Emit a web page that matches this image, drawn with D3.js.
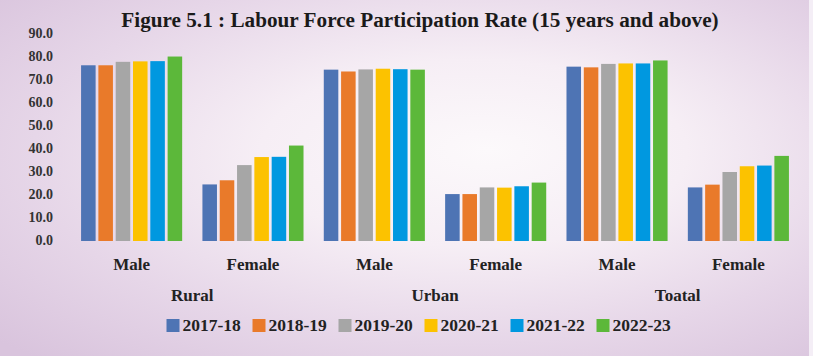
<!DOCTYPE html>
<html><head><meta charset="utf-8">
<script src="https://cdn.jsdelivr.net/npm/d3@7"></script>
<style>html,body{margin:0;padding:0;overflow:hidden;}svg{display:block;}</style>
</head><body>
<svg id="chart" width="813" height="356"></svg>
<script>
const title = "Figure 5.1 : Labour Force Participation Rate (15 years and above)";
const areas = ["Rural", "Urban", "Toatal"];
const sexes = ["Male", "Female"];
const years = ["2017-18", "2018-19", "2019-20", "2020-21", "2021-22", "2022-23"];
const colors = ["#4e74b4", "#e97a2a", "#a6a6a6", "#fcc200", "#0098e0", "#5cb83a"];
const yTicks = [0, 10, 20, 30, 40, 50, 60, 70, 80, 90];
const ruralMale = [76.4, 76.4, 77.9, 78.1, 78.2, 80.2];
const ruralFemale = [24.6, 26.4, 33.0, 36.5, 36.6, 41.5];
const urbanMale = [74.5, 73.7, 74.6, 74.9, 74.7, 74.5];
const urbanFemale = [20.4, 20.4, 23.3, 23.2, 23.8, 25.4];
const totalMale = [75.8, 75.5, 77.0, 77.2, 77.2, 78.5];
const totalFemale = [23.3, 24.5, 30.0, 32.5, 32.8, 37.0];

const groups = [
  {area: "Rural", sex: "Male", values: ruralMale},
  {area: "Rural", sex: "Female", values: ruralFemale},
  {area: "Urban", sex: "Male", values: urbanMale},
  {area: "Urban", sex: "Female", values: urbanFemale},
  {area: "Toatal", sex: "Male", values: totalMale},
  {area: "Toatal", sex: "Female", values: totalFemale}
];
groups.forEach((g, i) => g.key = g.area + "|" + g.sex);

const svg = d3.select("#chart");
const W = 813, H = 356;
const font = "'Liberation Serif', 'Times New Roman', serif";

// background
const defs = svg.append("defs");
const rg = defs.append("radialGradient").attr("id", "bg")
  .attr("cx", "0.55").attr("cy", "0.45").attr("r", "0.75")
  .attr("fx", "0.6").attr("fy", "0.42");
rg.append("stop").attr("offset", "0").attr("stop-color", "#fcf9fb");
rg.append("stop").attr("offset", "0.35").attr("stop-color", "#f6eef5");
rg.append("stop").attr("offset", "0.7").attr("stop-color", "#e6d6e8");
rg.append("stop").attr("offset", "1").attr("stop-color", "#d9c4dd");
svg.append("rect").attr("width", W).attr("height", H).attr("fill", "url(#bg)");
svg.append("rect").attr("x", W - 4).attr("width", 4).attr("height", H).attr("fill", "#f4eef6");

const x0 = d3.scaleBand().domain(groups.map(g => g.key)).range([71, 799])
  .paddingInner(0.167).paddingOuter(0.083);
const x1 = d3.scaleBand().domain(years).range([0, x0.bandwidth()]).paddingInner(0.16);
const y = d3.scaleLinear().domain([0, 90]).range([241, 34]);
const color = d3.scaleOrdinal().domain(years).range(colors);

// title
svg.append("text").attr("x", 420).attr("y", 27).attr("text-anchor", "middle")
  .attr("font-family", font).attr("font-weight", "bold").attr("font-size", 21.2)
  .attr("fill", "#1a1a1a").text(title);

// y axis
const yAxis = d3.axisLeft(y).tickValues(yTicks).tickFormat(d3.format(".1f")).tickSize(0).tickPadding(0);
const ya = svg.append("g").attr("transform", "translate(53,-1)").call(yAxis);
ya.select(".domain").remove();
ya.selectAll("text").attr("font-family", font).attr("font-weight", "bold")
  .attr("font-size", 14).attr("fill", "#333");

// bars
const gg = svg.append("g").selectAll("g").data(groups).join("g")
  .attr("transform", d => `translate(${x0(d.key)},0)`);
gg.selectAll("rect").data(d => d.values.map((v, i) => ({year: years[i], v})))
  .join("rect")
  .attr("x", d => x1(d.year)).attr("width", x1.bandwidth())
  .attr("y", d => y(d.v)).attr("height", d => y(0) - y(d.v))
  .attr("fill", d => color(d.year));

// x sub labels
const xAxis = d3.axisBottom(x0).tickSize(0).tickPadding(0).tickFormat(k => k.split("|")[1]);
const xa = svg.append("g").attr("transform", "translate(0,270)").call(xAxis);
xa.select(".domain").remove();
xa.selectAll("text").attr("dy", 0).attr("font-family", font).attr("font-weight", "bold")
  .attr("font-size", 17).attr("fill", "#222");

// area labels
svg.append("g").selectAll("text").data(areas).join("text")
  .attr("x", a => (x0(a + "|Male") + x0(a + "|Female") + x0.bandwidth()) / 2)
  .attr("y", 301).attr("text-anchor", "middle")
  .attr("font-family", font).attr("font-weight", "bold").attr("font-size", 17)
  .attr("fill", "#222").text(a => a);

// legend
const lx = d3.scalePoint().domain(years).range([166.5, 596.5]);
const lg = svg.append("g").selectAll("g").data(years).join("g")
  .attr("transform", d => `translate(${lx(d)},319)`);
lg.append("rect").attr("width", 13).attr("height", 13).attr("fill", d => color(d));
lg.append("text").attr("x", 16).attr("y", 12).attr("font-family", font)
  .attr("font-weight", "bold").attr("font-size", 17.5).attr("fill", "#222").text(d => d);
</script>
</body></html>
